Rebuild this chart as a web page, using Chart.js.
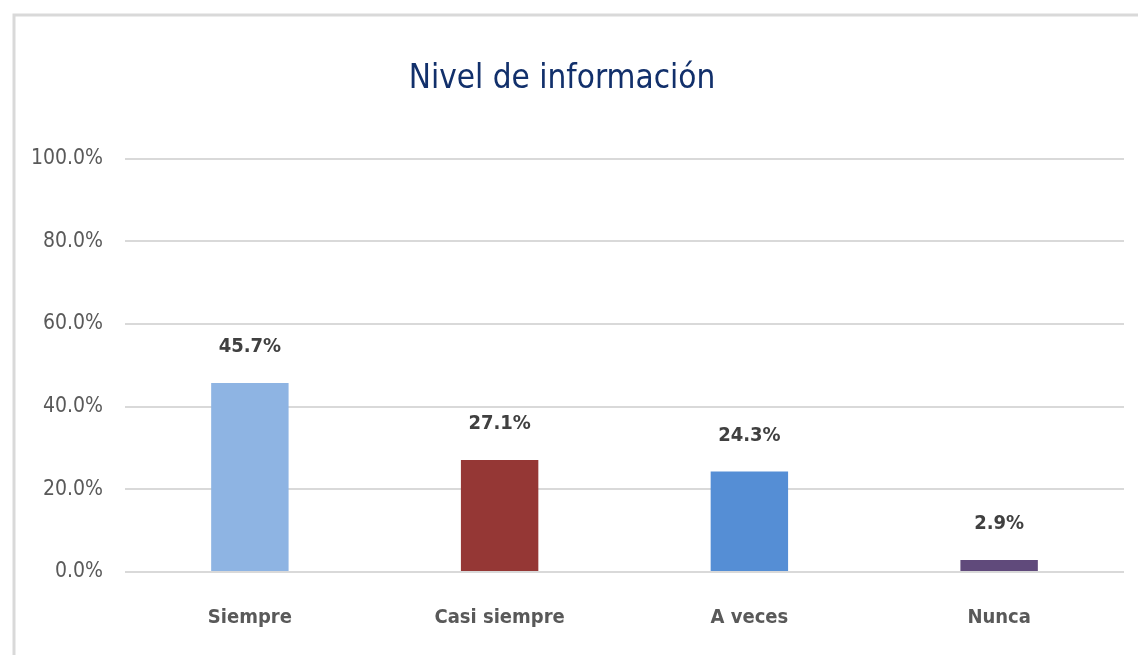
<!DOCTYPE html>
<html>
<head>
<meta charset="utf-8">
<script src="https://cdn.jsdelivr.net/npm/chart.js@4.4.1/dist/chart.umd.min.js"></script>
<style>
html,body{margin:0;padding:0;background:#fff;}
#wrap{position:relative;width:1138px;height:655px;}
</style>
</head>
<body>
<div id="wrap"><canvas id="c" width="1138" height="655"></canvas></div>
<script>
const categories = ['Siempre', 'Casi siempre', 'A veces', 'Nunca'];
const values = [45.7, 27.1, 24.3, 2.9];
const valueLabels = ['45.7%', '27.1%', '24.3%', '2.9%'];
const yTickLabels = ['0.0%', '20.0%', '40.0%', '60.0%', '80.0%', '100.0%'];
const barColors = ['#8EB4E3', '#953735', '#558ED5', '#604A7B'];
const titleText = 'Nivel de información';

const FONT = "'Liberation Sans Narrow', 'DejaVu Sans Condensed', 'Arial Narrow', sans-serif";

const framePlugin = {
  id: 'frame',
  beforeDraw(chart) {
    const ctx = chart.ctx;
    ctx.save();
    ctx.fillStyle = '#ffffff';
    ctx.fillRect(0, 0, chart.width, chart.height);
    ctx.strokeStyle = '#D9D9D9';
    ctx.lineWidth = 3;
    ctx.beginPath();
    ctx.moveTo(14, chart.height);
    ctx.lineTo(14, 15);
    ctx.lineTo(chart.width, 15);
    ctx.stroke();
    ctx.restore();
  }
};

const labelPlugin = {
  id: 'barLabels',
  afterDatasetsDraw(chart) {
    const ctx = chart.ctx;
    const meta = chart.getDatasetMeta(0);
    ctx.save();
    ctx.font = 'bold 20px ' + FONT;
    ctx.fillStyle = '#404040';
    ctx.textAlign = 'center';
    ctx.textBaseline = 'middle';
    meta.data.forEach((bar, i) => {
      ctx.fillText(valueLabels[i], bar.x, bar.y - 36);
    });
    ctx.restore();
  }
};

new Chart(document.getElementById('c'), {
  type: 'bar',
  data: {
    labels: categories,
    datasets: [{
      data: values,
      backgroundColor: barColors,
      borderWidth: 0,
      categoryPercentage: 1,
      barPercentage: 0.31
    }]
  },
  options: {
    responsive: false,
    animation: false,
    layout: { padding: { left: 0, right: 14, top: 0, bottom: 0 } },
    plugins: {
      legend: { display: false },
      tooltip: { enabled: false },
      title: {
        display: true,
        text: titleText,
        color: '#12306B',
        font: { family: FONT, size: 33, weight: 'normal', lineHeight: 1.2 },
        padding: { top: 60, bottom: 59 }
      }
    },
    scales: {
      x: {
        grid: { display: false, drawTicks: false },
        border: { display: false },
        ticks: {
          color: '#595959',
          font: { family: FONT, size: 20, weight: 'bold', lineHeight: 1.2 },
          padding: 34,
          maxRotation: 0
        },
        afterFit(scale) { scale.height = 83; }
      },
      y: {
        min: 0,
        max: 100,
        grid: { color: '#D9D9D9', lineWidth: 2, drawTicks: false },
        border: { display: false },
        ticks: {
          stepSize: 20,
          color: '#595959',
          font: { family: FONT, size: 21, weight: 'normal' },
          padding: 22,
          callback: (v, i) => yTickLabels[i]
        },
        afterFit(scale) { scale.width = 125; }
      }
    }
  },
  plugins: [framePlugin, labelPlugin]
});
</script>
</body>
</html>
